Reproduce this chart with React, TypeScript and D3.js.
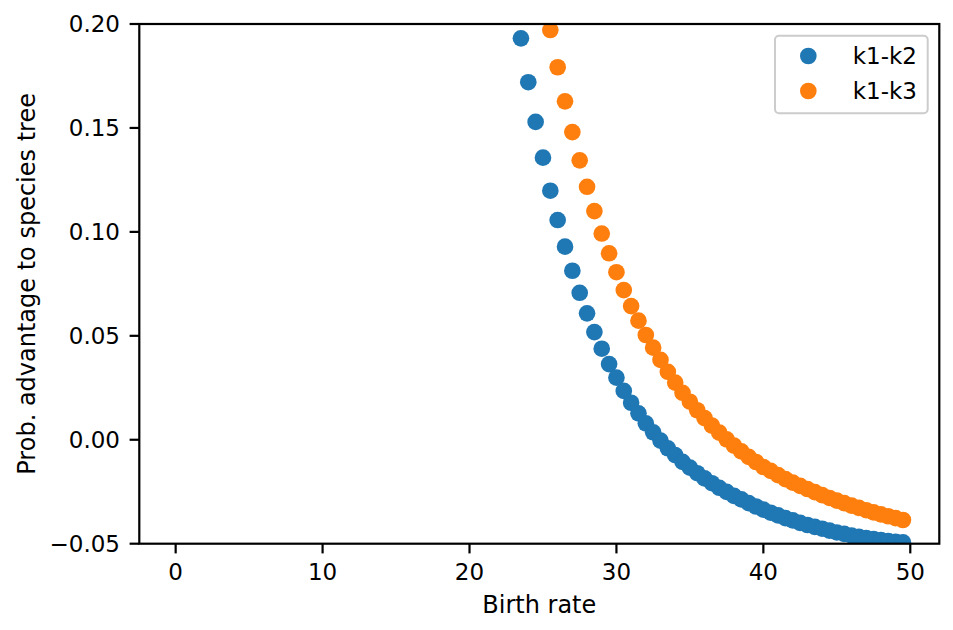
import React from "react";
import * as d3 from "d3";

const birthRatesK2: number[] = [
  23.5, 24, 24.5, 25, 25.5, 26, 26.5, 27, 27.5, 28, 28.5, 29, 29.5, 30, 30.5, 31, 31.5, 32,
  32.5, 33, 33.5, 34, 34.5, 35, 35.5, 36, 36.5, 37, 37.5, 38, 38.5, 39, 39.5, 40, 40.5, 41,
  41.5, 42, 42.5, 43, 43.5, 44, 44.5, 45, 45.5, 46, 46.5, 47, 47.5, 48, 48.5, 49, 49.5,
];
const valuesK2: number[] = [
  0.1931, 0.172, 0.1529, 0.1357, 0.1198, 0.1057, 0.0929, 0.0813, 0.0707, 0.0608, 0.0518,
  0.0438, 0.0364, 0.0299, 0.0235, 0.0178, 0.0127, 0.0079, 0.0036, -0.0004, -0.0041, -0.0074,
  -0.0106, -0.0134, -0.0161, -0.0186, -0.0209, -0.0231, -0.0251, -0.027, -0.0287, -0.0305,
  -0.0321, -0.0336, -0.0351, -0.0364, -0.0377, -0.0388, -0.04, -0.041, -0.0419, -0.0428,
  -0.0437, -0.0446, -0.0453, -0.0461, -0.0467, -0.0473, -0.0478, -0.0483, -0.0487, -0.0491,
  -0.0494,
];
const birthRatesK3: number[] = [
  25.5, 26, 26.5, 27, 27.5, 28, 28.5, 29, 29.5, 30, 30.5, 31, 31.5, 32, 32.5, 33, 33.5, 34,
  34.5, 35, 35.5, 36, 36.5, 37, 37.5, 38, 38.5, 39, 39.5, 40, 40.5, 41, 41.5, 42, 42.5, 43,
  43.5, 44, 44.5, 45, 45.5, 46, 46.5, 47, 47.5, 48, 48.5, 49, 49.5,
];
const valuesK3: number[] = [
  0.1971, 0.1792, 0.1628, 0.148, 0.1344, 0.1217, 0.11, 0.0992, 0.0897, 0.0806, 0.072, 0.0643,
  0.0573, 0.0504, 0.0443, 0.0384, 0.0327, 0.0275, 0.0226, 0.0183, 0.0142, 0.0104, 0.0068,
  0.0034, 0.0002, -0.0028, -0.0056, -0.0082, -0.0107, -0.0131, -0.015, -0.017, -0.0189,
  -0.0206, -0.0222, -0.0237, -0.0252, -0.0266, -0.028, -0.0293, -0.0305, -0.0317, -0.0328,
  -0.0339, -0.0349, -0.0359, -0.0368, -0.0377, -0.0386,
];
const seriesNames: string[] = ["k1-k2", "k1-k3"];
const seriesColors: string[] = ["#1f77b4", "#ff7f0e"];
const xTicks: number[] = [0, 10, 20, 30, 40, 50];
const yTicks: number[] = [-0.05, 0.0, 0.05, 0.1, 0.15, 0.2];
const xLabel = "Birth rate";
const yLabel = "Prob. advantage to species tree";

const W = 953;
const H = 630;
const left = 139.3;
const right = 939.3;
const top = 24;
const bottom = 543.7;
const FONT = "DejaVu Sans";
const FS = 23;
const LFS = 24;
const R = 8.33;

export default function App() {
  const x = d3.scaleLinear().domain([-2.475, 51.975]).range([left, right]);
  const y = d3.scaleLinear().domain([-0.05, 0.2]).range([bottom, top]);
  const fmtY = (v: number) => d3.format(".2f")(v).replace("-", "\u2212");
  const series = [
    { xs: birthRatesK2, ys: valuesK2 },
    { xs: birthRatesK3, ys: valuesK3 },
  ];
  return (
    <svg
      width={W}
      height={H}
      style={{ position: "absolute", left: 0, top: 0, background: "#fff" }}
      fontFamily={FONT}
    >
      <defs>
        <clipPath id="plotclip">
          <rect x={left} y={top} width={right - left} height={bottom - top} />
        </clipPath>
      </defs>
      <rect x={0} y={0} width={W} height={H} fill="#fff" />
      <g clipPath="url(#plotclip)">
        {series.map((s, si) =>
          s.xs.map((xv, i) => (
            <circle key={`${si}-${i}`} cx={x(xv)} cy={y(s.ys[i])} r={R} fill={seriesColors[si]} />
          ))
        )}
      </g>
      <rect x={left} y={top} width={right - left} height={bottom - top} fill="none" stroke="#000" strokeWidth={2.2} />
      {xTicks.map((t) => (
        <g key={`xt${t}`}>
          <line x1={x(t)} x2={x(t)} y1={bottom} y2={bottom + 9.7} stroke="#000" strokeWidth={2.2} />
          <text x={x(t)} y={580} fontSize={FS} textAnchor="middle" fill="#000">
            {t}
          </text>
        </g>
      ))}
      {yTicks.map((t) => (
        <g key={`yt${t}`}>
          <line x1={left - 9.7} x2={left} y1={y(t)} y2={y(t)} stroke="#000" strokeWidth={2.2} />
          <text x={120} y={y(t)} dy="0.36em" fontSize={FS} textAnchor="end" fill="#000">
            {fmtY(t)}
          </text>
        </g>
      ))}
      <text x={(left + right) / 2} y={613} fontSize={LFS} textAnchor="middle" fill="#000">
        {xLabel}
      </text>
      <text
        transform={`translate(35, ${(top + bottom) / 2}) rotate(-90)`}
        fontSize={LFS}
        textAnchor="middle"
        fill="#000"
      >
        {yLabel}
      </text>
      <rect x={775} y={35.7} width={152.7} height={77.6} rx={4} ry={4} fill="#fff" fillOpacity={0.8} stroke="#cccccc" strokeWidth={2} />
      {seriesNames.map((n, i) => (
        <g key={n}>
          <circle cx={808.3} cy={56 + i * 35} r={R} fill={seriesColors[i]} />
          <text x={852.7} y={56 + i * 35} dy="0.36em" fontSize={23} fill="#000">
            {n}
          </text>
        </g>
      ))}
    </svg>
  );
}
